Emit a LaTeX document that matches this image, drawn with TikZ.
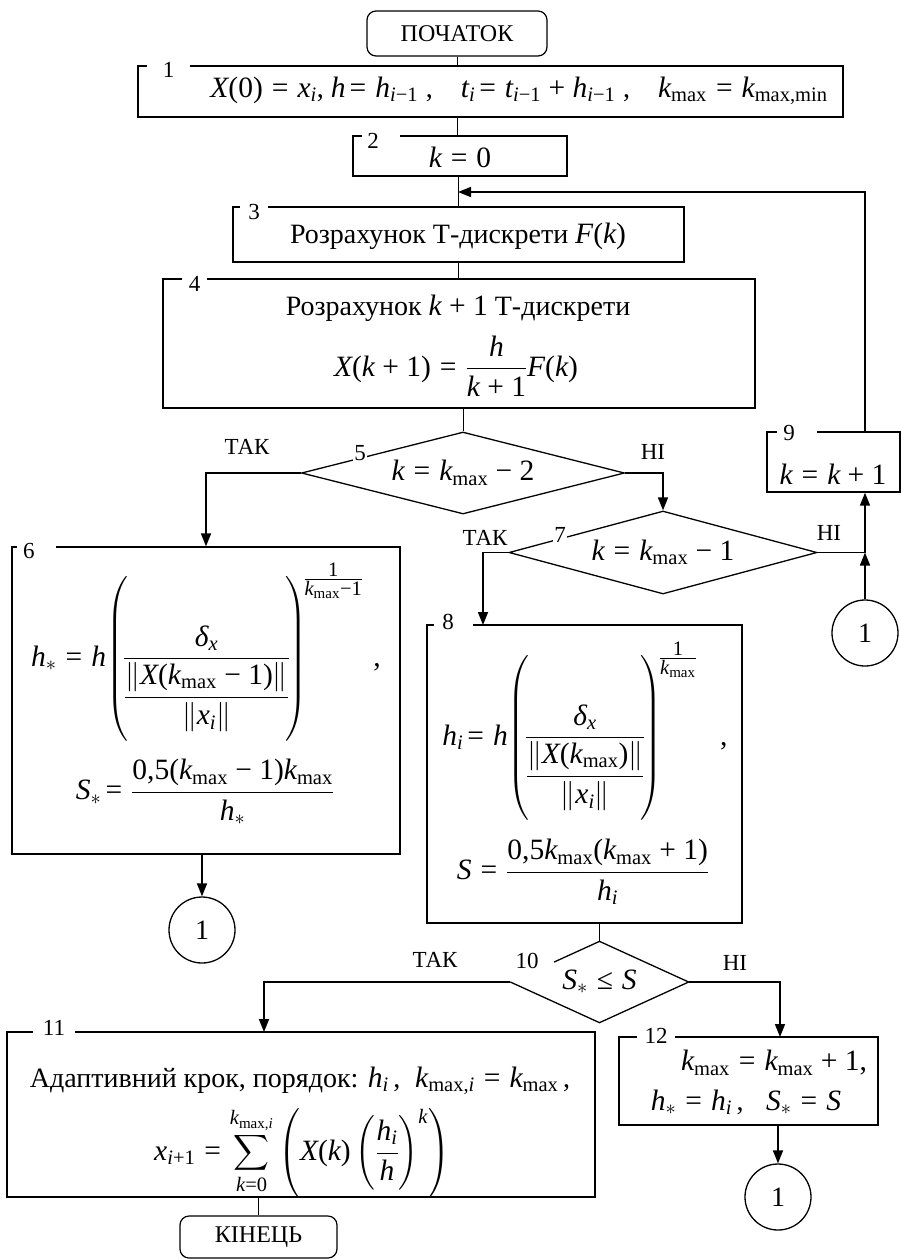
\RequirePackage{fix-cm}
\documentclass[tikz,border=0pt]{standalone}
\usepackage{amsmath}
\usepackage[no-math]{fontspec}
\setmainfont{Liberation Serif}
\makeatletter
\edef\mytmp{\noexpand\DeclareSymbolFont{tlet}{TU}{\rmdefault}{m}{it}}\mytmp
\edef\mytmp{\noexpand\DeclareSymbolFont{tup}{TU}{\rmdefault}{m}{n}}\mytmp
\newcommand{\mymathsetup}{%
\count@=`a
\loop \Umathcode\count@="7 \symtlet \count@ \ifnum\count@<`z \advance\count@\@ne \repeat
\count@=`A
\loop \Umathcode\count@="7 \symtlet \count@ \ifnum\count@<`Z \advance\count@\@ne \repeat
\count@=`0
\loop \Umathcode\count@="7 \symtup \count@ \ifnum\count@<`9 \advance\count@\@ne \repeat
\Umathchardef\delta="7 \symtlet "03B4
\Umathcode`(="4 \symtup `(
\Umathcode`)="5 \symtup `)
\Umathcode`,="6 \symtup `,
\Umathcode`=="3 \symtup `=
\Umathcode`+="2 \symtup `+
\Umathcode`-="2 \symtup "2212
\Umathchardef\mle="3 \symtup "2264
\def\operator@font{\mathgroup\symtup}}
\mymathsetup
\AtBeginDocument{\mymathsetup}
\makeatother
\DeclareMathSizes{28}{29.5}{20.5}{15}
\thickmuskip=5.5mu plus 5mu
\medmuskip=4.5mu plus 2mu minus 4mu
\usetikzlibrary{shapes.geometric,arrows.meta,calc}
\newcommand{\myfs}{\fontsize{28}{33}\selectfont}
\newcommand{\mynum}{\fontsize{23}{26}\selectfont}
\newcommand{\myterm}{\fontsize{24}{28}\selectfont}
\newcommand{\parstrut}{\rule[-72pt]{0pt}{160pt}}
\newcommand{\myexp}[1]{\frac{\scriptstyle 1}{\scriptstyle #1}}
\begin{document}
\begin{tikzpicture}[x=1pt,y=-1pt,
  blk/.style={draw, line width=1.3pt, rectangle, inner sep=0pt},
  term/.style={draw, line width=1.2pt, rounded corners=9pt, inner sep=0pt, font=\myterm},
  dia/.style={draw, diamond, line width=1.3pt, inner sep=0pt, font=\myfs},
  conn/.style={draw, circle, line width=1.3pt, minimum size=66pt, inner sep=0pt, font=\myfs},
  txt/.style={inner sep=0pt, font=\myfs, align=center},
  num/.style={fill=white, inner sep=1pt, font=\mynum},
  lbl/.style={inner sep=0pt, font=\mynum},
  arr/.style={line width=1.6pt, -{Triangle[length=13pt,width=10pt]}},
  ln/.style={line width=1pt},
  outl/.style={line width=1.3pt}
]
\useasboundingbox (0,0) rectangle (901,1259);

% ---- blocks ----
\node[term, minimum width=180pt, minimum height=45pt] (start) at (457,33.5) {ПОЧАТОК};

\node[blk, minimum width=705pt, minimum height=51pt] (b1) at (490.5,91.5) {};
\node[txt] (t1) at (519,91) {$X(0) = x_i$, $h\!= h_{i-1}$\;,\quad $t_i\!= t_{i-1} + h_{i-1}$\;,\quad $k_{\max} = k_{\max,\min}$};
\node[num, minimum width=43pt] at (168.5,70) {1};

\node[blk, minimum width=214pt, minimum height=40pt] (b2) at (460,156) {};
\node[txt] (t2) at (460,157) {$k = 0$};
\node[num, minimum width=38pt] at (381,141) {2\hspace*{16pt}};

\node[blk, minimum width=451pt, minimum height=55pt] (b3) at (458.5,234.5) {};
\node[txt] (t3) at (458,236) {Розрахунок Т-дискрети $F(k)$};
\node[num, minimum width=28pt] at (254,212) {3};

\node[blk, minimum width=592pt, minimum height=129pt] (b4) at (459,343.5) {};
\node[txt] (t4a) at (458,308) {Розрахунок $k+1$ Т-дискрети};
\node[txt] (t4b) at (456,366) {$X(k+1) = \dfrac{h}{k+1}F(k)$};
\node[num, minimum width=25pt] at (194.5,284) {4};

\node[dia, minimum width=323pt, minimum height=82pt, aspect=3.9] (d5) at (463,473) {$k = k_{\max} - 2$};
\node[num] at (360,453) {5};

\node[dia, minimum width=308pt, minimum height=83pt, aspect=3.7] (d7) at (663,552.5) {$k = k_{\max} - 1$};
\node[num] at (560,535) {7};

\node[blk, minimum width=133pt, minimum height=60pt] (b9) at (833.5,462) {};
\node[txt] (t9) at (833,474) {$k = k + 1$};
\node[num, minimum width=40pt] at (797,433) {9\hspace*{16pt}};

\node[conn] (c9) at (865,633) {1};

\node[blk, minimum width=388pt, minimum height=307pt] (b6) at (206,700.5) {};
\node[txt] (t6a) at (206,652) {$h_{*} = h\!\left(\parstrut\!\dfrac{\delta_x}{\dfrac{\left\|X(k_{\max}-1)\right\|}{\left\|x_i\right\|}}\!\right)^{\!\myexp{k_{\max}-1}}\,,$};
\node[txt] (t6b) at (205,792) {$S_{*}\!= \dfrac{0{,}5(k_{\max}-1)k_{\max}}{h_{*}}$};
\node[num, minimum width=39pt] at (36.5,551) {6\hspace*{15pt}};

\node[conn] (c6) at (202,930) {1};

\node[blk, minimum width=315pt, minimum height=298pt] (b8) at (584.5,774) {};
\node[txt] (t8a) at (585,731) {$h_i\!= h\!\left(\parstrut\!\dfrac{\delta_x}{\dfrac{\left\|X(k_{\max})\right\|}{\left\|x_i\right\|}}\!\right)^{\!\myexp{k_{\max}}}\;\;,$};
\node[txt] (t8b) at (583,872) {$S = \dfrac{0{,}5k_{\max}(k_{\max}+1)}{h_i}$};
\node[num, minimum width=39pt] at (453.5,622) {8\hspace*{11pt}};

\node[dia, draw=none, minimum width=177pt, minimum height=80pt, aspect=2.2] (d10) at (599.5,982) {$S_{*} \mle S$};
\draw[outl] ($(d10.west)!0.49!(d10.north)$) -- (d10.north) -- (d10.east) -- (d10.south) -- (d10.west);
\node[lbl] at (527,961) {10};

\node[blk, minimum width=588pt, minimum height=165pt] (b11) at (301,1114.5) {};
\node[txt] (t11a) at (300,1081) {Адаптивний крок, порядок: $h_i$\,,\; $k_{\max,i} = k_{\max}$\,,};
\node[txt] (t11b) at (302,1153) {$x_{i+1} = \displaystyle\sum_{k=0}^{k_{\max,i}}\left( X(k)\left(\dfrac{h_i}{h}\right)^{k}\right)$};
\node[num, minimum width=42pt] at (54,1028) {11};

\node[blk, minimum width=259pt, minimum height=88pt] (b12) at (748.5,1081) {};
\node[txt] (t12a) at (774,1063) {$k_{\max} = k_{\max} + 1,$};
\node[txt] (t12b) at (746,1102) {$h_{*} = h_i$\,,\;\; $S_{*} = S$};
\node[num, minimum width=38pt] at (656,1036) {12};

\node[conn] (c12) at (778,1197) {1};

\node[term, minimum width=157pt, minimum height=42pt] (fin) at (258.5,1237) {КІНЕЦЬ};

% ---- labels ----
\node[lbl] at (247,447) {ТАК};
\node[lbl] at (653,452) {НІ};
\node[lbl] at (485,538) {ТАК};
\node[lbl] at (829,533) {НІ};
\node[lbl] at (435,960) {ТАК};
\node[lbl] at (735,963) {НІ};

% ---- connectors ----
\coordinate (jl) at (458,192);
\coordinate (j9t) at (865,432);
\coordinate (j9) at (865,492.7);
\coordinate (j8) at (483,625);
\coordinate (j11) at (264,1032);
\coordinate (j12) at (780,1037);

\draw[ln] (start.south) -- (start.south |- b1.north);
\draw[ln] (start.south |- b1.south) -- (start.south |- b2.north);
\draw[ln] (b2.south -| b3.north) -- (b3.north);
\draw[ln] (b3.south) -- (b3.south |- b4.north);
\draw[ln] (d5.north |- b4.south) -- (d5.north);
\draw[arr] (d5.west) -| (b6.north);
\draw[arr] (d5.east) -| (d7.north);
\draw[arr] (d7.west) -| (j8);
\draw[arr] (d7.east) -| (j9);
\draw[arr] (c9.north) -- (d7.east -| c9.north);
\draw[arr] (j9t) |- (jl);
\draw[arr] (c6.north |- b6.south) -- (c6.north);
\draw[ln] (d10.north |- b8.south) -- (d10.north);
\draw[arr] (d10.west) -| (j11);
\draw[arr] (d10.east) -| (j12);
\draw[arr] (c12.north |- b12.south) -- (c12.north);
\draw[ln] (fin.north |- b11.south) -- (fin.north);
\end{tikzpicture}
\end{document}
